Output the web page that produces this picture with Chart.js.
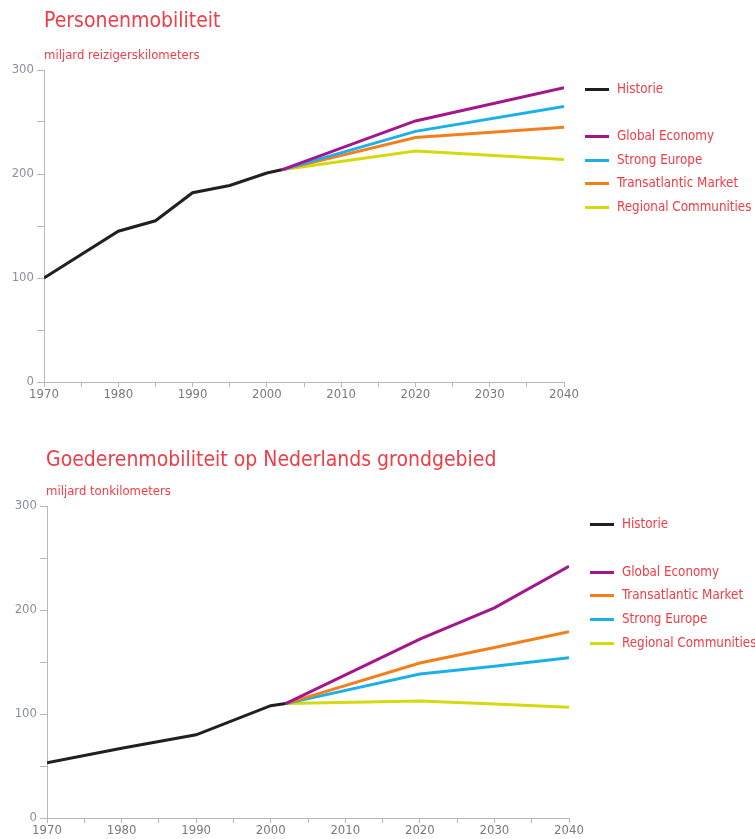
<!DOCTYPE html>
<html>
<head>
<meta charset="utf-8">
<script src="https://cdn.jsdelivr.net/npm/chart.js@4/dist/chart.umd.min.js"></script>
<style>
  html, body { margin:0; padding:0; background:#fff; }
  body { width:755px; height:839px; position:relative; overflow:hidden;
         font-family:"Liberation Sans Narrow","DejaVu Sans Condensed",sans-serif; }
  .cv { position:absolute; left:0; }
  .title { position:absolute; color:#f03c46; font-size:21px; white-space:nowrap; z-index:2; }
  .sub { position:absolute; color:#f03c46; font-size:13px; white-space:nowrap; z-index:2; }
  .leg { position:absolute; color:#f03c46; font-size:13.3px; white-space:nowrap; z-index:2; line-height:16px; }
  .leg .sw { position:absolute; top:7px; height:3px; width:24px; }
</style>
</head>
<body>
<div class="title" style="left:44px; top:8px;">Personenmobiliteit</div>
<div class="sub" style="left:44px; top:47px;">miljard reizigerskilometers</div>
<div id="wrap1" class="cv" style="top:0; width:755px; height:420px;"><canvas id="c1"></canvas></div>
<div id="leg1"></div>

<div class="title" style="left:46px; top:447px;">Goederenmobiliteit op Nederlands grondgebied</div>
<div class="sub" style="left:46px; top:483px;">miljard tonkilometers</div>
<div id="wrap2" class="cv" style="top:420px; width:755px; height:419px;"><canvas id="c2"></canvas></div>
<div id="leg2"></div>

<script>
// ---------- DATA ----------
const colors = {
  historie: '#231f20',
  global: '#a3168e',
  strong: '#1cb0ea',
  trans: '#f27f1b',
  regional: '#d4da0c'
};
const xTickValues = [1970, 1980, 1990, 2000, 2010, 2020, 2030, 2040];
const yTickValues = [0, 100, 200, 300];

// Personenmobiliteit (miljard reizigerskilometers)
const persHistYears = [1970, 1980, 1985, 1990, 1995, 2000, 2002];
const persHistValues = [100, 145, 155, 182, 189, 201, 204];
const persScenYears = [2002, 2020, 2040];
const persGlobal = [204, 251, 283];
const persStrong = [204, 241, 265];
const persTrans = [204, 235, 245];
const persRegional = [204, 222, 214];

// Goederenmobiliteit (miljard tonkilometers)
const goedHistYears = [1970, 1980, 1990, 2000, 2002];
const goedHistValues = [53, 67, 80, 108, 110];
const goedScenYears = [2002, 2020, 2030, 2040];
const goedGlobal = [110, 172, 202, 242];
const goedTrans = [110, 149, 164, 179];
const goedStrong = [110, 138.5, 146, 154];
const goedRegional = [110, 112.5, 109.5, 106.5];

// ---------- HELPERS ----------
const FONT = "'Liberation Sans Narrow', 'DejaVu Sans Condensed', sans-serif";
const pts = (xs, ys) => xs.map((x, i) => ({x, y: ys[i]}));
const ds = (label, color, xs, ys) => ({
  label, data: pts(xs, ys), borderColor: color, backgroundColor: color,
  borderWidth: 3, pointRadius: 0, tension: 0, fill: false
});

function makeChart(id, datasets, area, yWidth) {
  const W = 755;
  return new Chart(document.getElementById(id), {
    type: 'line',
    data: { datasets },
    options: {
      responsive: true, maintainAspectRatio: false, animation: false,
      layout: { padding: { left: 0, top: area.top, right: W - area.right, bottom: 0 } },
      plugins: { legend: { display: false }, tooltip: { enabled: false } },
      scales: {
        x: {
          type: 'linear', min: 1970, max: 2040,
          afterFit: s => { s.height = area.xh; },
          border: { display: true, color: '#b8b8b8', width: 1 },
          grid: { display: true, drawOnChartArea: false, drawTicks: true, tickLength: 5, color: '#b8b8b8' },
          ticks: {
            stepSize: 5, autoSkip: false, maxRotation: 0, padding: 0,
            color: '#7a7a7a', font: { family: FONT, size: 13 },
            callback: v => xTickValues.includes(v) ? String(v) : ''
          }
        },
        y: {
          min: 0, max: 300,
          afterFit: s => { s.width = yWidth; },
          border: { display: true, color: '#b8b8b8', width: 1 },
          grid: { display: true, drawOnChartArea: false, drawTicks: true, tickLength: 7, color: '#b8b8b8' },
          ticks: {
            stepSize: 50, autoSkip: false, padding: 3,
            color: '#8c909c', font: { family: FONT, size: 13 },
            callback: v => yTickValues.includes(v) ? String(v) : ''
          }
        }
      }
    }
  });
}

function makeLegend(elId, chart, rowsY, swX, textX) {
  const host = document.getElementById(elId);
  chart.data.datasets.forEach((d, i) => {
    const row = document.createElement('div');
    row.className = 'leg';
    row.style.left = swX + 'px';
    row.style.top = (rowsY[i] - 8) + 'px';
    const sw = document.createElement('span');
    sw.className = 'sw';
    sw.style.left = '0px';
    sw.style.background = d.borderColor;
    const tx = document.createElement('span');
    tx.style.position = 'absolute';
    tx.style.left = (textX - swX) + 'px';
    tx.textContent = d.label;
    row.appendChild(sw); row.appendChild(tx);
    host.appendChild(row);
  });
}

// ---------- CHART 1 ----------
const chart1 = makeChart('c1', [
  ds('Historie', colors.historie, persHistYears, persHistValues),
  ds('Global Economy', colors.global, persScenYears, persGlobal),
  ds('Strong Europe', colors.strong, persScenYears, persStrong),
  ds('Transatlantic Market', colors.trans, persScenYears, persTrans),
  ds('Regional Communities', colors.regional, persScenYears, persRegional)
], { top: 70, right: 564, xh: 38 }, 44);
makeLegend('leg1', chart1, [89, 136, 160, 183, 207], 585, 617);

// ---------- CHART 2 ----------
const chart2 = makeChart('c2', [
  ds('Historie', colors.historie, goedHistYears, goedHistValues),
  ds('Global Economy', colors.global, goedScenYears, goedGlobal),
  ds('Transatlantic Market', colors.trans, goedScenYears, goedTrans),
  ds('Strong Europe', colors.strong, goedScenYears, goedStrong),
  ds('Regional Communities', colors.regional, goedScenYears, goedRegional)
], { top: 86, right: 569, xh: 21 }, 47);
makeLegend('leg2', chart2, [524, 572, 595, 619, 643], 590, 622);
</script>
</body>
</html>
